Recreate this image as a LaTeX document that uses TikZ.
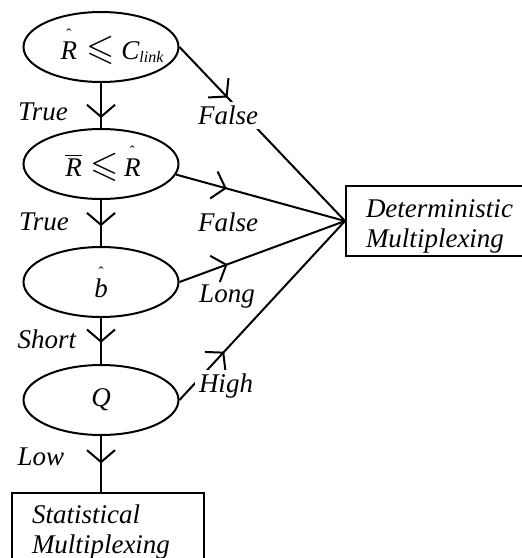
\documentclass[tikz,border=0pt]{standalone}
\usepackage{amssymb}
\usepackage{fontspec}
\setmainfont{Liberation Serif}
\usetikzlibrary{arrows.meta,decorations.markings,shapes.geometric}

% italic letters with a raised hat or a bar, and a larger slanted less-or-equal
\newcommand{\hatit}[1]{\setbox0=\hbox{\itshape #1}%
  \rlap{\hbox to \wd0{\hss\raisebox{20pt}{\fontsize{15}{15}\selectfont\upshape\char"02C6}\hss}}\box0}
\newcommand{\barit}[1]{$\overline{\hbox{\itshape #1}}$}
\newcommand{\sleq}{\scalebox{1.35}{$\leqslant$}}
% zero-width centred text, so the ellipse keeps its fixed size
\newcommand{\cond}[1]{\makebox[0pt]{#1}}

\begin{document}
\begin{tikzpicture}[x=1pt,y=1pt,
  lw/.style={line width=2pt},
  txt/.style={font=\fontsize{27}{30}\selectfont\itshape},
  test/.style={ellipse, draw, lw, minimum width=155pt, minimum height=70pt,
    inner sep=0pt, txt},
  outbox/.style={rectangle, draw, lw, txt, align=left, text width=152pt,
    inner xsep=20pt, inner ysep=0pt, minimum height=70pt, anchor=north west},
  lbl/.style={txt, inner sep=3pt},
  cut/.style={txt, inner sep=4pt, fill=white},
  flow/.style={lw, postaction=decorate, decoration={markings,
    mark=at position #1 with {\arrow{Straight Barb[length=12pt,width=28pt,line width=2pt]}}}},
]
\useasboundingbox (0,0) rectangle (522,-558);
\clip (0,0) rectangle (522,-558);

% decision ellipses
\node[test] (e1) at (101,-47)
  {\cond{\hspace*{22pt}\hatit{R}\hspace{9pt}\sleq\hspace{7pt}C{\fontsize{16}{16}\selectfont\raisebox{-3pt}{link}}}};
\node[test] (e2) at (101,-164)
  {\cond{\hspace*{4pt}\barit{R}\hspace{9pt}\sleq\hspace{5pt}\hatit{R}}};
\node[test] (e3) at (101,-282) {\cond{\hatit{b}}};
\node[test] (e4) at (101,-400) {\cond{Q}};

% outcome boxes
\node[outbox] (stat) at (11,-492) {\rule{0pt}{27pt}Statistical\\Multiplexing};
\node[outbox] (det) at (345,-185) {\rule{0pt}{28pt}Deterministic\\Multiplexing};

% main chain
\draw[flow=0.78] (e1.south) -- (e2.north);
\draw[flow=0.57] (e2.south) -- (e3.north);
\draw[flow=0.54] (e3.south) -- (e4.north);
\draw[flow=0.49] (e4.south) -- (stat.north -| e4.south);

% branches to the deterministic box
\draw[flow=0.29] (e1.east) -- (det.west);
\draw[flow=0.30] (e2.-8) -- (det.west);
\draw[flow=0.29] (e3.east) -- (det.west);
\draw[flow=0.27] (e4.east) -- (det.west);

% branch labels
\node[lbl] (t1) at (43,-112) {True};
\node[lbl] (t2) at (44,-222) {True};
\node[lbl] (sh) at (47,-339) {Short};
\node[lbl] (lo) at (41,-457) {Low};
\node[cut] (f1) at (228,-115) {False};
\node[lbl] (f2) at (228,-222) {False};
\node[lbl] (lg) at (227,-297) {Long};
\node[cut] (hi) at (226,-386) {High};
\end{tikzpicture}
\end{document}
